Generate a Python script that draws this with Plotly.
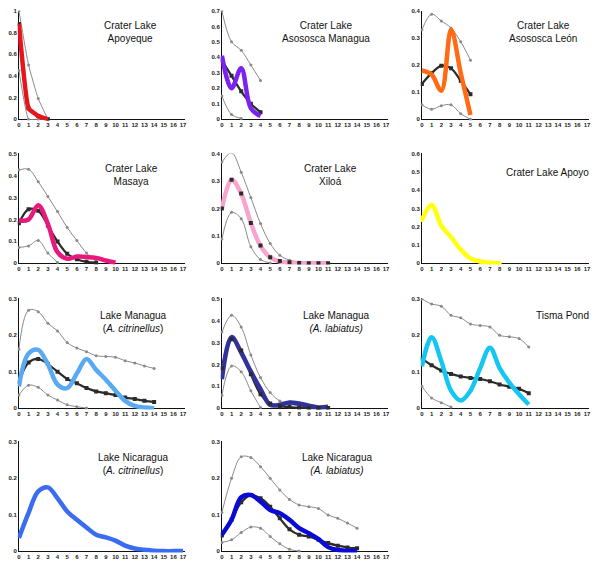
import plotly.graph_objects as go

# ---------------- data ----------------
apoyeque_fit = [0.88, 0.10, 0.03, 0.0]
apoyeque_mean = [0.88, 0.10, 0.03, 0.0]
apoyeque_upper = [1.0, 0.50, 0.19, 0.0]
apoyeque_lower = [0.45, 0.0, 0.0, 0.0]

asoman_fit = [0.41, 0.20, 0.33, 0.07, 0.02]
asoman_mean = [0.38, 0.28, 0.18, 0.10, 0.045]
asoman_upper = [0.70, 0.50, 0.445, 0.35, 0.25]
asoman_lower = [0.15, 0.03, 0.005]

asoleon_fit = [0.18, 0.165, 0.105, 0.33, 0.17, 0.015]
asoleon_mean = [0.13, 0.17, 0.197, 0.188, 0.142, 0.092]
asoleon_upper = [0.33, 0.388, 0.363, 0.337, 0.286, 0.218]
asoleon_lower = [0.053, 0.037, 0.05, 0.053, 0.02, 0.0]

masaya_fit = [0.195, 0.20, 0.265, 0.18, 0.05, 0.02, 0.03, 0.028, 0.024, 0.012, 0.002]
masaya_mean = [0.183, 0.247, 0.24, 0.172, 0.099, 0.043, 0.018, 0.006, 0.002]
masaya_upper = [0.427, 0.43, 0.373, 0.305, 0.236, 0.163, 0.104, 0.046, 0.008]
masaya_lower = [0.072, 0.079, 0.104, 0.046, 0.003]

xiloa_fit = [0.20, 0.305, 0.254, 0.147, 0.063, 0.021, 0.006, 0.002, 0.0, 0.0, 0.0, 0.0]
xiloa_mean = [0.20, 0.305, 0.255, 0.147, 0.065, 0.022, 0.008, 0.003, 0.001, 0.0, 0.0, 0.0]
xiloa_upper = [0.37, 0.405, 0.333, 0.24, 0.145, 0.072, 0.029, 0.011, 0.004]
xiloa_lower = [0.088, 0.186, 0.163, 0.06, 0.013, 0.001]

apoyo_fit = [0.237, 0.32, 0.205, 0.143, 0.075, 0.026, 0.009, 0.002, 0.0]

mancit_fit = [0.06, 0.15, 0.16, 0.12, 0.065, 0.055, 0.095, 0.135, 0.105, 0.078, 0.048, 0.02, 0.006, 0.002, 0.0]
mancit_mean = [0.072, 0.125, 0.135, 0.121, 0.10, 0.08, 0.068, 0.055, 0.046, 0.041, 0.036, 0.029, 0.025, 0.02, 0.017]
mancit_upper = [0.162, 0.269, 0.265, 0.233, 0.212, 0.18, 0.165, 0.155, 0.144, 0.142, 0.14, 0.13, 0.124, 0.116, 0.109]
mancit_lower = [0.036, 0.063, 0.057, 0.036, 0.022, 0.009, 0.004, 0.0]

manlab_fit = [0.132, 0.325, 0.254, 0.167, 0.087, 0.015, 0.015, 0.026, 0.021, 0.011, 0.003, 0.006]
manlab_mean = [0.182, 0.315, 0.264, 0.155, 0.064, 0.021, 0.009, 0.005, 0.002, 0.0, 0.0, 0.0]
manlab_upper = [0.348, 0.425, 0.371, 0.243, 0.14, 0.071, 0.033, 0.018, 0.011, 0.003, 0.0]
manlab_lower = [0.059, 0.193, 0.167, 0.079, 0.003]

tisma_fit = [0.115, 0.195, 0.129, 0.048, 0.021, 0.048, 0.11, 0.166, 0.11, 0.07, 0.038, 0.01]
tisma_mean = [0.136, 0.118, 0.103, 0.094, 0.087, 0.083, 0.08, 0.074, 0.065, 0.059, 0.053, 0.041]
tisma_upper = [0.30, 0.286, 0.28, 0.255, 0.248, 0.231, 0.227, 0.223, 0.2, 0.196, 0.191, 0.168]
tisma_lower = [0.06, 0.028, 0.015, 0.003]

niccit_fit = [0.036, 0.105, 0.164, 0.175, 0.145, 0.109, 0.086, 0.065, 0.045, 0.038, 0.029, 0.015, 0.007, 0.004, 0.001, 0.0, 0.0, 0.0]

niclab_fit = [0.045, 0.086, 0.148, 0.154, 0.136, 0.113, 0.104, 0.086, 0.063, 0.049, 0.033, 0.011, 0.003, 0.001, 0.0]
niclab_mean = [0.043, 0.086, 0.134, 0.154, 0.145, 0.122, 0.09, 0.06, 0.045, 0.04, 0.031, 0.022, 0.015, 0.01, 0.008]
niclab_upper = [0.106, 0.2, 0.259, 0.257, 0.232, 0.2, 0.168, 0.142, 0.127, 0.122, 0.117, 0.099, 0.09, 0.077, 0.063]
niclab_lower = [0.024, 0.031, 0.051, 0.066, 0.063, 0.04, 0.02, 0.005, 0.0]

titles = [
    "Crater Lake<br>Apoyeque",
    "Crater Lake<br>Asososca Managua",
    "Crater Lake<br>Asososca León",
    "Crater Lake<br>Masaya",
    "Crater Lake<br>Xiloá",
    "Crater Lake Apoyo",
    "Lake Managua<br>(<i>A. citrinellus</i>)",
    "Lake Managua<br><i>(A. labiatus)</i>",
    "Tisma Pond",
    "Lake Nicaragua<br>(<i>A. citrinellus</i>)",
    "Lake Nicaragua<br><i>(A. labiatus)</i>",
]
y_tops = [1.0, 0.7, 0.4, 0.5, 0.4, 0.6, 0.3, 0.5, 0.3, 0.3, 0.3]
y_steps = [0.2, 0.1, 0.1, 0.1, 0.1, 0.1, 0.1, 0.1, 0.1, 0.1, 0.1]
x_ticks = list(range(0, 18))

# ---------------- styling / layout ----------------
fits = [apoyeque_fit, asoman_fit, asoleon_fit, masaya_fit, xiloa_fit, apoyo_fit,
        mancit_fit, manlab_fit, tisma_fit, niccit_fit, niclab_fit]
means = [apoyeque_mean, asoman_mean, asoleon_mean, masaya_mean, xiloa_mean, None,
         mancit_mean, manlab_mean, tisma_mean, None, niclab_mean]
uppers = [apoyeque_upper, asoman_upper, asoleon_upper, masaya_upper, xiloa_upper, None,
          mancit_upper, manlab_upper, tisma_upper, None, niclab_upper]
lowers = [apoyeque_lower, asoman_lower, asoleon_lower, masaya_lower, xiloa_lower, None,
          mancit_lower, manlab_lower, tisma_lower, None, niclab_lower]
colors = ["#e8141c", "#7b22f0", "#ff6a12", "#e8187c", "#f8a4cc", "#ffff10",
          "#5aaaf2", "#32329c", "#14c6f2", "#3a6cf2", "#0a0ad6"]
markers_on_top = [False, False, False, False, True, False, False, True, False, False, False]
smooth = [0.35, 1, 1, 1, 1, 1, 1, 1, 1, 1, 1]

# pixel anchors: (x of 0, x of 17) per column; (y of top, y of 0) per row
col_px = [(18, 183), (222, 387), (423, 589)]
row_px = [(9, 118), (153, 263), (299, 409), (443, 553)]
title_pos = [(130, 30), (327, 30), (545, 30), (131, 174), (331, 174), (549, 172),
             (133, 322), (337, 322), (564, 316), (133, 465), (338, 465)]

W, H = 600, 570
fig = go.Figure()
layout = dict(width=W, height=H, margin=dict(l=0, r=0, t=0, b=0),
              paper_bgcolor="white", plot_bgcolor="white", showlegend=False)
annotations = []
tickfont = dict(family="Liberation Sans, Arial", size=6, color="#222222", weight="bold")
x_lo, x_hi = -0.12, 17.25

for i in range(11):
    r, c = divmod(i, 3)
    xl, xr = col_px[c]
    yt, y0 = row_px[r]
    u = (xr - xl) / 17.0
    top = y_tops[i]
    y_lo, y_hi = -0.012 * top, top * 1.004
    v = (y0 - yt) / top
    dx = [(xl + x_lo * u) / W, (xl + x_hi * u) / W]
    dy = [1 - (y0 - y_lo * v) / H, 1 - (y0 - y_hi * v) / H]
    sfx = "" if i == 0 else str(i + 1)
    xa, ya = "x" + sfx, "y" + sfx
    sm = smooth[i]
    layout["xaxis" + sfx] = dict(domain=dx, range=[x_lo, x_hi], anchor=ya, showgrid=False,
                                 showline=False, zeroline=True, zerolinecolor="#111111",
                                 zerolinewidth=1, tickvals=x_ticks, ticks="",
                                 tickfont=tickfont, fixedrange=True)
    n_t = int(round(top / y_steps[i]))
    yv = [round(k * y_steps[i], 2) for k in range(n_t + 1)]
    layout["yaxis" + sfx] = dict(domain=dy, range=[y_lo, y_hi], anchor=xa, showgrid=False,
                                 showline=False, zeroline=True, zerolinecolor="#111111",
                                 zerolinewidth=1, tickvals=yv,
                                 ticktext=[("%g" % t) for t in yv], ticks="",
                                 tickfont=tickfont, fixedrange=True)

    def add_gray(vals):
        fig.add_trace(go.Scatter(x=list(range(len(vals))), y=vals, xaxis=xa, yaxis=ya,
                                 mode="lines+markers",
                                 line=dict(color="#8a8a8a", width=1, shape="spline", smoothing=sm),
                                 marker=dict(size=3, color="#8a8a8a", symbol="circle"),
                                 hoverinfo="skip"))

    def add_mean(vals, mode):
        fig.add_trace(go.Scatter(x=list(range(len(vals))), y=vals, xaxis=xa, yaxis=ya,
                                 mode=mode,
                                 line=dict(color="#2b2b2b", width=2.2, shape="spline", smoothing=sm),
                                 marker=dict(size=4, color="#2b2b2b", symbol="square"),
                                 hoverinfo="skip"))

    def add_fit(vals):
        mode = "lines+markers" if i == 5 else "lines"
        fig.add_trace(go.Scatter(x=list(range(len(vals))), y=vals, xaxis=xa, yaxis=ya,
                                 mode=mode,
                                 line=dict(color=colors[i], width=4.5, shape="spline", smoothing=sm),
                                 marker=dict(size=4, color=colors[i]),
                                 hoverinfo="skip"))

    if uppers[i] is not None:
        add_gray(uppers[i])
    if lowers[i] is not None:
        add_gray(lowers[i])
    if means[i] is not None:
        add_mean(means[i], "lines" if markers_on_top[i] else "lines+markers")
    add_fit(fits[i])
    if means[i] is not None and markers_on_top[i]:
        add_mean(means[i], "markers")

    tx, ty = title_pos[i]
    annotations.append(dict(text=titles[i], x=tx / W, y=1 - ty / H, xref="paper", yref="paper",
                            xanchor="center", yanchor="middle", showarrow=False, align="center",
                            font=dict(family="Liberation Sans, Arial", size=10, color="#111111")))

layout["annotations"] = annotations
fig.update_layout(**layout)
fig.write_html("out.html", config={"displayModeBar": False},
               post_script="document.documentElement.style.margin='0';"
                           "document.body.style.margin='0';document.body.style.overflow='hidden';")
